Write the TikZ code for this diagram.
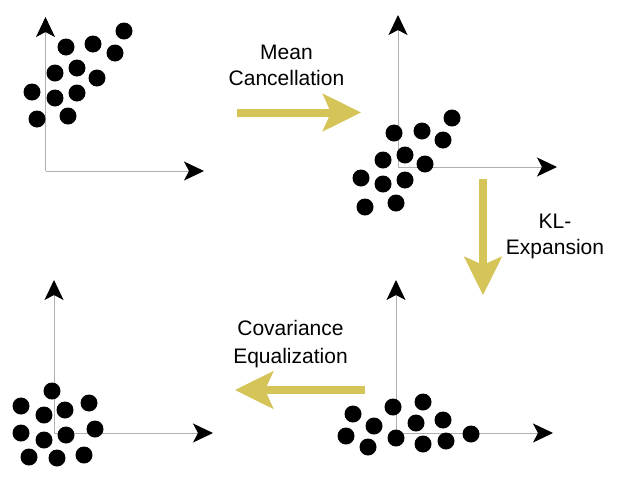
\documentclass[tikz,border=0pt]{standalone}
\usepackage{fontspec}
\setmainfont{Liberation Sans}
\usetikzlibrary{arrows.meta}
\definecolor{olivey}{RGB}{213,196,87}
\definecolor{axisgray}{RGB}{175,175,175}
\tikzset{
  dot/.style={circle,fill=black,minimum size=17pt,inner sep=0pt,draw=none},
  axisline/.style={draw=axisgray,line width=1pt,-{Stealth[length=20pt,width=19pt,inset=5pt,fill=black,color=black]}},
  bigarrow/.style={draw=olivey,line width=8pt,-{Stealth[length=38pt,width=37pt,inset=8pt,color=olivey]}},
  label/.style={align=center,font=\fontsize{21}{26}\selectfont,inner sep=0pt}
}
\begin{document}
\begin{tikzpicture}[x=1pt,y=-1pt]
\useasboundingbox (0,0) rectangle (624,488);
% panel 1
\coordinate (o1) at (45.5,171);
\coordinate (y1) at (45.5,17);
\coordinate (x1) at (204,171);
\draw[axisline] (o1) -- (y1);
\draw[axisline] (o1) -- (x1);
\foreach \n/\x/\y in {a/124/31,b/66/47,c/93/44,d/115/53,e/55/73,f/77/68,g/97/78,h/32/92,i/55/98,j/77/93,k/37/119,l/68/116}
  \node[dot] (p1\n) at (\x,\y) {};
% panel 2
\coordinate (o2) at (398,167);
\coordinate (y2) at (398,15);
\coordinate (x2) at (557,167);
\draw[axisline] (o2) -- (y2);
\draw[axisline] (o2) -- (x2);
\foreach \n/\x/\y in {a/452/118,b/394/133,c/422/131,d/443/140,e/383/160,f/405/155,g/425/164,h/361/178,i/383/184,j/405/180,k/365/207,l/396/203}
  \node[dot] (p2\n) at (\x,\y) {};
% panel 3
\coordinate (o3) at (54,433);
\coordinate (y3) at (54,280);
\coordinate (x3) at (213,433);
\draw[axisline] (o3) -- (y3);
\draw[axisline] (o3) -- (x3);
\foreach \n/\x/\y in {a/52/391,b/21/406,c/44/415,d/65/410,e/89/403,f/21/433,g/44/440,h/66/435,i/95/429,j/29/457,k/57/458,l/84/455}
  \node[dot] (p3\n) at (\x,\y) {};
% panel 4
\coordinate (o4) at (396,433);
\coordinate (y4) at (396,280);
\coordinate (x4) at (553,433);
\draw[axisline] (o4) -- (y4);
\draw[axisline] (o4) -- (x4);
\foreach \n/\x/\y in {a/393/407,b/423/402,c/353/414,d/374/426,e/416/423,f/443/420,g/346/436,h/368/447,i/396/438,j/423/444,k/446/441,l/471/434}
  \node[dot] (p4\n) at (\x,\y) {};
% big arrows
\coordinate (m1) at (237,112.5);
\coordinate (m2) at (361,112.5);
\draw[bigarrow] (m1) -- (m2);
\node[label] (mc) at (286.5,65.5) {Mean\\Cancellation};
\coordinate (k1) at (483,179);
\coordinate (k2) at (483,295);
\draw[bigarrow] (k1) -- (k2);
\node[label] (kl) at (555,236.5) {KL-\\Expansion};
\coordinate (c1) at (365,390);
\coordinate (c2) at (235,390);
\draw[bigarrow] (c1) -- (c2);
\node[label,font=\fontsize{21}{28}\selectfont] (ce) at (290.5,344) {Covariance\\Equalization};
\end{tikzpicture}
\end{document}
